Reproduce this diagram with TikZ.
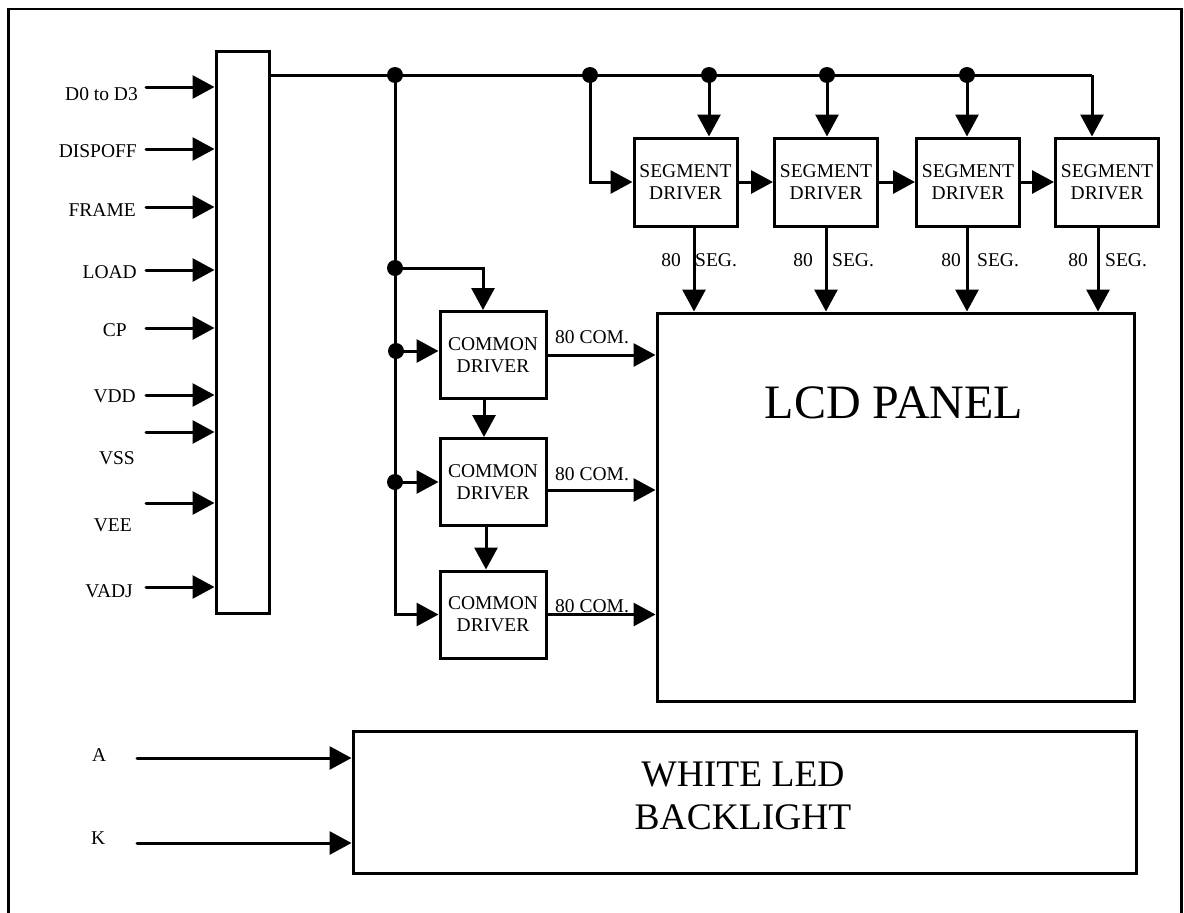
\documentclass[tikz,border=0pt]{standalone}
\usepackage{fontspec}
\setmainfont{Liberation Serif}
\usetikzlibrary{arrows.meta}
\newcommand\lblfont{\fontsize{19.5}{22}\selectfont}
\tikzset{
  ln/.style={line width=3pt},
  arr/.style={line width=3pt, -{Triangle[length=22pt,width=23pt]}},
  blk/.style={draw, line width=3pt, inner sep=0pt, align=center, font=\lblfont},
  lbl/.style={inner sep=0pt, font=\lblfont},
  big/.style={inner sep=0pt, font=\fontsize{48}{56}\selectfont},
  mid/.style={inner sep=0pt, font=\fontsize{37.5}{43}\selectfont},
}
\begin{document}
\begin{tikzpicture}[x=1pt,y=-1pt]
\useasboundingbox (0,0) rectangle (1184,913);
\draw[line width=2.5pt] (8.5,913) -- (8.5,9) -- (1181.5,9) -- (1181.5,913);

% blocks
\node[blk, minimum width=53pt, minimum height=562pt] (in) at (242.5,332) {};
\node[blk, minimum width=103pt, minimum height=88pt] (sd1) at (685.5,182) {SEGMENT\\DRIVER};
\node[blk, minimum width=103pt, minimum height=88pt] (sd2) at (826,182) {SEGMENT\\DRIVER};
\node[blk, minimum width=103pt, minimum height=88pt] (sd3) at (968,182) {SEGMENT\\DRIVER};
\node[blk, minimum width=103pt, minimum height=88pt] (sd4) at (1107,182) {SEGMENT\\DRIVER};
\node[blk, minimum width=106pt, minimum height=87pt] (cd1) at (493,355) {COMMON\\DRIVER};
\node[blk, minimum width=106pt, minimum height=87pt] (cd2) at (493,482) {COMMON\\DRIVER};
\node[blk, minimum width=106pt, minimum height=87pt] (cd3) at (493,614.5) {COMMON\\DRIVER};
\node[blk, minimum width=477pt, minimum height=388pt] (lcd) at (895.5,507) {};
\node[big, anchor=base] (lcdt) at (894,418) {LCD PANEL};
\node[blk, minimum width=783pt, minimum height=142pt] (bl) at (744.5,802.5) {};
\node[mid, anchor=base] (blt1) at (743,786) {WHITE LED};
\node[mid, anchor=base] (blt2) at (743,829) {BACKLIGHT};

% input labels and arrows
\node[lbl, anchor=base east] (l1) at (138,100) {D0 to D3};
\node[lbl, anchor=base east] (l2) at (137,157) {DISPOFF};
\node[lbl, anchor=base east] (l3) at (136,216) {FRAME};
\node[lbl, anchor=base east] (l4) at (137,278) {LOAD};
\node[lbl, anchor=base east] (l5) at (127,336) {CP};
\node[lbl, anchor=base east] (l6) at (136,402) {VDD};
\node[lbl, anchor=base east] (l7) at (135,464) {VSS};
\node[lbl, anchor=base east] (l8) at (132,531) {VEE};
\node[lbl, anchor=base east] (l9) at (133,597) {VADJ};
\foreach \n/\y in {1/87,2/149,3/207,4/270,5/328,6/395,7/432,8/503,9/587}{
  \coordinate (s\n) at (146,\y);
  \draw[arr, line cap=round] (s\n) -- (s\n -| in.west);
}

% bus
\coordinate (j1) at (395,75);
\coordinate (j2) at (590,75);
\coordinate (j3) at (709,75);
\coordinate (j4) at (827,75);
\coordinate (j5) at (967,75);
\coordinate (c6) at (1092,75);
\coordinate (k1) at (395,268);
\coordinate (k2) at (396,351);
\coordinate (k3) at (395,482);
\draw[ln] (in.east |- j1) -- (c6);
\draw[arr] (c6) -- (c6 |- sd4.north);
\draw[arr] (j3) -- (j3 |- sd1.north);
\draw[arr] (j4) -- (j4 |- sd2.north);
\draw[arr] (j5) -- (j5 |- sd3.north);
\draw[arr] (j2) |- (sd1.west);
\draw[arr] (sd1.east) -- (sd2.west);
\draw[arr] (sd2.east) -- (sd3.west);
\draw[arr] (sd3.east) -- (sd4.west);

% common side
\draw[arr] (j1) |- (cd3.west);
\draw[arr] (k1) -| ([xshift=-10pt]cd1.north);
\draw[arr] (k2) -- (k2 -| cd1.west);
\draw[arr] (k3) -- (k3 -| cd2.west);
\draw[arr] ([xshift=-9pt]cd1.south) -- ([xshift=-9pt]cd2.north);
\draw[arr] ([xshift=-7pt]cd2.south) -- ([xshift=-7pt]cd3.north);
\draw[arr] (cd1.east) -- (cd1.east -| lcd.west);
\draw[arr] ([yshift=-8pt]cd2.east) -- ([yshift=-8pt]cd2.east -| lcd.west);
\draw[arr] (cd3.east) -- (cd3.east -| lcd.west);
\node[lbl, anchor=base west] (m1) at (555,343) {80 COM.};
\node[lbl, anchor=base west] (m2) at (555,480) {80 COM.};
\node[lbl, anchor=base west] (m3) at (555,612) {80 COM.};

% segment outputs
\draw[arr] ([xshift=8.5pt]sd1.south) -- ([xshift=8.5pt]sd1.south |- lcd.north);
\draw[arr] (sd2.south) -- (sd2.south |- lcd.north);
\draw[arr] ([xshift=-1pt]sd3.south) -- ([xshift=-1pt]sd3.south |- lcd.north);
\draw[arr] ([xshift=-9pt]sd4.south) -- ([xshift=-9pt]sd4.south |- lcd.north);
\node[lbl, anchor=base east] (n1) at (681,266) {80};
\node[lbl, anchor=base west] (g1) at (695,266) {SEG.};
\node[lbl, anchor=base east] (n2) at (813,266) {80};
\node[lbl, anchor=base west] (g2) at (832,266) {SEG.};
\node[lbl, anchor=base east] (n3) at (961,266) {80};
\node[lbl, anchor=base west] (g3) at (977,266) {SEG.};
\node[lbl, anchor=base east] (n4) at (1088,266) {80};
\node[lbl, anchor=base west] (g4) at (1105,266) {SEG.};

% dots
\foreach \p in {j1,j2,j3,j4,j5,k1,k2,k3} \fill (\p) circle (8pt);

% backlight inputs
\node[lbl, anchor=base west] (la) at (92,761) {A};
\node[lbl, anchor=base west] (lk) at (91,844) {K};
\coordinate (sa) at (137,758);
\coordinate (sk) at (137,843);
\draw[arr, line cap=round] (sa) -- (sa -| bl.west);
\draw[arr, line cap=round] (sk) -- (sk -| bl.west);
\end{tikzpicture}
\end{document}
